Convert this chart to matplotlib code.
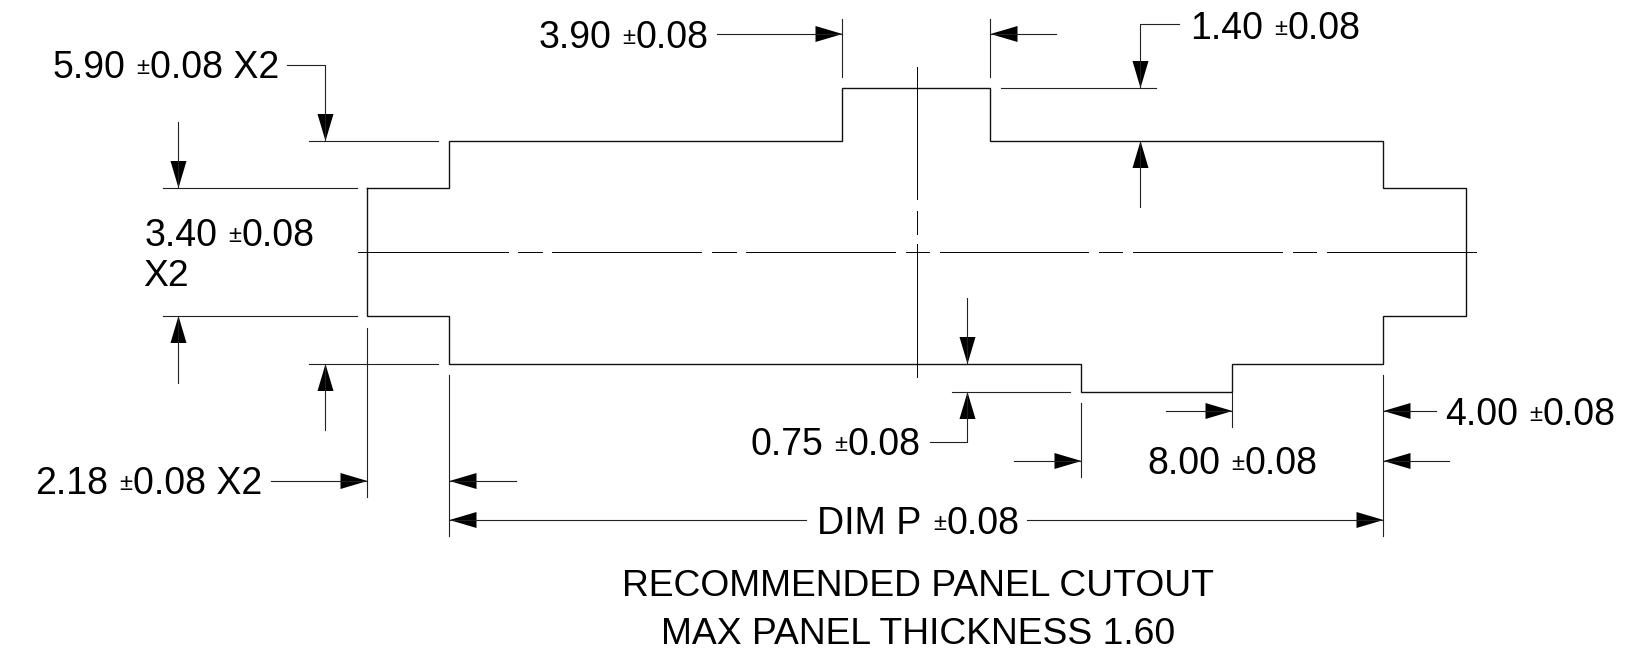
import matplotlib
matplotlib.use('Agg')
import matplotlib.pyplot as plt

plt.rcParams['font.family'] = ['Liberation Sans', 'DejaVu Sans']

# everything in image pixels
outline_x = [368, 450, 450, 843, 843, 991, 991, 1384, 1384, 1467, 1467, 1384, 1384, 1233, 1233, 1082, 1082, 450, 450, 368, 368]
outline_y = [188, 188, 141, 141, 88, 88, 141, 141, 188, 188, 316, 316, 364, 364, 392, 392, 364, 364, 316, 316, 188]

# centre lines: (start, end) of every dash
center_y = 252
center_h_dashes = [(359, 509), (519, 543), (553, 702), (713, 737), (747, 896), (907, 930),
                   (941, 1089), (1100, 1123), (1134, 1283), (1294, 1317), (1328, 1477)]
center_x = 917.5
center_v_dashes = [(67, 199), (211, 234), (244, 377)]

# extension lines (x0, y0, x1, y1)
ext_lines = [
    (310, 141, 439, 141), (164, 188, 358, 188), (164, 316, 358, 316), (310, 364, 439, 364),
    (368, 328, 368, 497), (450, 375, 450, 536), (1384, 375, 1384, 536),
    (1233, 392, 1233, 427), (1082, 403, 1082, 477), (953, 392, 1071, 392),
    (843, 19, 843, 77), (991, 19, 991, 77), (1002, 88, 1157, 88),
]

# leaders ending in an arrow head: polyline points, last one is the tip
leaders = [
    [(288, 65), (326, 65), (326, 141)],
    [(179, 122), (179, 188)],
    [(179, 383), (179, 316)],
    [(326, 430), (326, 364)],
    [(272, 481), (368, 481)],
    [(517, 481), (450, 481)],
    [(807, 520), (450, 520)],
    [(1028, 520), (1384, 520)],
    [(718, 34), (843, 34)],
    [(1057, 34), (991, 34)],
    [(1180, 24), (1141, 24), (1141, 88)],
    [(1141, 207), (1141, 141)],
    [(968, 298), (968, 364)],
    [(931, 442), (968, 442), (968, 392)],
    [(1015, 461), (1082, 461)],
    [(1167, 411), (1233, 411)],
    [(1437, 411), (1384, 411)],
    [(1450, 461), (1384, 461)],
]

# tolerance labels: value, suffix, left edge, baseline
tol_labels = [
    ('5.90', ' X2', 53, 78.5),
    ('3.90', '', 539, 48.5),
    ('1.40', '', 1191, 39),
    ('3.40', '', 145, 246.5),
    ('2.18', ' X2', 36, 494.5),
    ('0.75', '', 751, 455),
    ('8.00', '', 1148, 474),
    ('4.00', '', 1446, 425),
    ('DIM P', '', 818, 534),
]
plain_labels = [
    ('X2', 144, 285.5),
    ('RECOMMENDED PANEL CUTOUT', 623, 596.5),
    ('MAX PANEL THICKNESS 1.60', 662, 643.5),
]

fig = plt.figure(figsize=(16.49, 6.7), dpi=100)
ax = fig.add_axes([0, 0, 1, 1])
ax.set_xlim(0.5, 1649.5)
ax.set_ylim(670, 0)
ax.axis('off')

ax.plot(outline_x, outline_y, color='#111111', lw=1.0, solid_joinstyle='miter')

for a, b in center_h_dashes:
    ax.plot([a, b], [center_y, center_y], color='black', lw=0.7)
for a, b in center_v_dashes:
    ax.plot([center_x, center_x], [a, b], color='black', lw=0.7)

for x0, y0, x1, y1 in ext_lines:
    ax.plot([x0, x1], [y0, y1], color='#222222', lw=0.8)

head_len = 27
head_half = 8
for pts in leaders:
    xs = [p[0] for p in pts]
    ys = [p[1] for p in pts]
    ax.plot(xs, ys, color='#222222', lw=0.8)
    # arrow head points along the last segment
    dx = xs[-1] - xs[-2]
    dy = ys[-1] - ys[-2]
    n = (dx ** 2 + dy ** 2) ** 0.5
    dx, dy = dx / n, dy / n
    bx, by = xs[-1] - dx * head_len, ys[-1] - dy * head_len
    ax.fill([xs[-1], bx - dy * head_half, bx + dy * head_half],
            [ys[-1], by + dx * head_half, by - dx * head_half], color='black', lw=0)

fs = 27
renderer = fig.canvas.get_renderer()
for value, suffix, x, y in tol_labels:
    t = ax.text(x, y, value, fontsize=fs, va='baseline', ha='left', color='black')
    w = t.get_window_extent(renderer).width
    pm_x = x + w + 11
    ax.text(pm_x, y - 4, '±', fontsize=17, va='baseline', ha='left', color='black')
    ax.text(pm_x + 13.5, y, '0.08' + suffix, fontsize=fs, va='baseline', ha='left', color='black')

for label, x, y in plain_labels:
    ax.text(x, y, label, fontsize=26.8, va='baseline', ha='left', color='black')

fig.savefig('out.png', dpi=100)
